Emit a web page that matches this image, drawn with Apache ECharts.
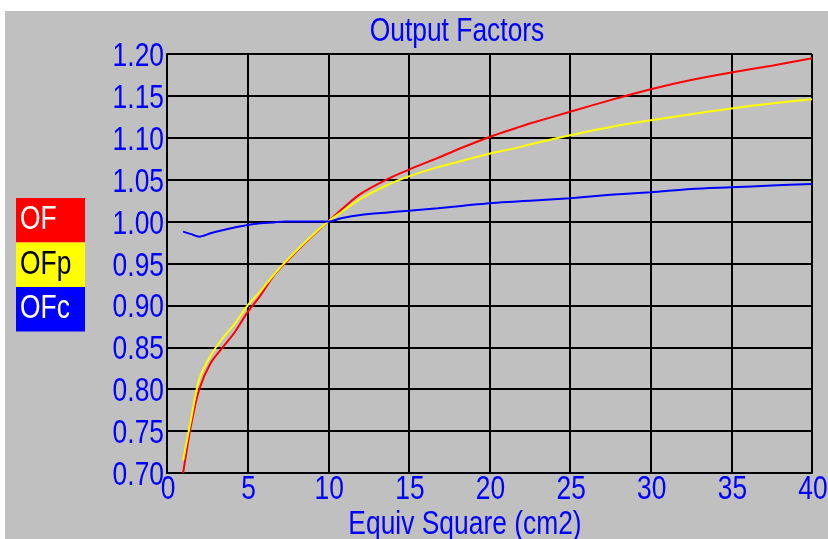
<!DOCTYPE html>
<html>
<head>
<meta charset="utf-8">
<script src="https://cdn.jsdelivr.net/npm/echarts@6/dist/echarts.min.js"></script>
<style>
  html, body { margin: 0; padding: 0; background: #ffffff; width: 828px; height: 539px; overflow: hidden; }
  #chart { position: absolute; left: 5px; top: 11px; width: 823px; height: 528px; }
</style>
</head>
<body>
<div id="chart"></div>
<script>
// Equivalent square field sizes (cm2) at which the factors are sampled
const fieldSizes = [1, 1.5, 2, 2.7, 3.5, 4.2, 5, 5.8, 6.6, 7.3, 8.7, 10, 10.8, 12, 13.7, 15, 16.8, 18.4, 20, 21.7, 22.5, 25, 27.5, 30, 32.5, 35, 37.5, 40];

// Total output factor
const ofValues = [0.700, 0.758, 0.800, 0.831, 0.851, 0.868, 0.892, 0.912, 0.935, 0.950, 0.977, 1.000, 1.014, 1.033, 1.051, 1.062, 1.076, 1.089, 1.101, 1.112, 1.117, 1.131, 1.145, 1.158, 1.169, 1.178, 1.186, 1.195];
// Phantom scatter factor
const ofpValues = [0.715, 0.765, 0.812, 0.840, 0.862, 0.878, 0.900, 0.917, 0.936, 0.951, 0.978, 1.000, 1.011, 1.027, 1.044, 1.054, 1.065, 1.073, 1.081, 1.088, 1.092, 1.103, 1.113, 1.121, 1.128, 1.135, 1.141, 1.146];
// Collimator scatter factor
const ofcValues = [0.988, 0.985, 0.982, 0.986, 0.990, 0.993, 0.996, 0.998, 0.999, 1.000, 1.000, 1.000, 1.004, 1.008, 1.011, 1.013, 1.016, 1.019, 1.022, 1.024, 1.025, 1.028, 1.032, 1.035, 1.039, 1.041, 1.043, 1.045];

const seriesNames = ['OF', 'OFp', 'OFc'];
const seriesColors = ['#ff0000', '#ffff00', '#0000ff'];
const legendTextColors = ['#ffffff', '#000000', '#ffffff'];

// Tick labels
const xTickLabels = ['0', '5', '10', '15', '20', '25', '30', '35', '40'];
const yTickLabels = ['0.70', '0.75', '0.80', '0.85', '0.90', '0.95', '1.00', '1.05', '1.10', '1.15', '1.20'];

const titleText = 'Output Factors';
const xAxisTitle = 'Equiv Square (cm2)';

const FONT = '33px "Liberation Sans", Arimo, sans-serif';
const NARROW = 0.8;          // horizontal squeeze applied to all text
const BLUE = '#0000ff';

const pairs = vals => fieldSizes.map((x, i) => [x, vals[i]]);
const allValues = [ofValues, ofpValues, ofcValues];

const chart = echarts.init(document.getElementById('chart'));

chart.setOption({
  backgroundColor: '#c0c0c0',
  animation: false,
  grid: { left: 162, top: 43, right: 16, bottom: 66, containLabel: false, show: false },
  xAxis: {
    type: 'value',
    min: 0, max: 40, interval: 5,
    axisLine: { show: true, lineStyle: { color: '#000', width: 2 } },
    axisTick: { show: false },
    axisLabel: { show: false },
    splitLine: { show: true, lineStyle: { color: '#000', width: 2 } }
  },
  yAxis: {
    type: 'value',
    min: 0.70, max: 1.20, interval: 0.05,
    axisLine: { show: true, lineStyle: { color: '#000', width: 2 } },
    axisTick: { show: false },
    axisLabel: { show: false },
    splitLine: { show: true, lineStyle: { color: '#000', width: 2 } }
  },
  series: seriesNames.map((name, i) => ({
    name: name,
    type: 'line',
    data: pairs(allValues[i]),
    showSymbol: false,
    smooth: 0.3,
    lineStyle: { color: seriesColors[i], width: 2 },
    itemStyle: { color: seriesColors[i] }
  }))
});

// Narrow text helper: text anchored at (x, y), squeezed horizontally about its anchor
function narrowText(x, y, text, fill, align, vAlign) {
  return {
    type: 'text', x: x, y: y, scaleX: NARROW, z: 10,
    style: { text: text, fill: fill, font: FONT, align: align, verticalAlign: vAlign }
  };
}

const g = [];
const toPx = (x, y) => chart.convertToPixel({ gridIndex: 0 }, [x, y]);

// Y tick labels
yTickLabels.forEach(lbl => {
  const p = toPx(0, parseFloat(lbl));
  g.push(narrowText(p[0] - 3, p[1] + 3, lbl, BLUE, 'right', 'middle'));
});
// X tick labels
xTickLabels.forEach(lbl => {
  const p = toPx(parseFloat(lbl), 0.70);
  g.push(narrowText(p[0] + 1, p[1] + 17, lbl, BLUE, 'center', 'middle'));
});
// Title and axis title
g.push(narrowText(452, 21, titleText, BLUE, 'center', 'middle'));
g.push(narrowText(460, 514, xAxisTitle, BLUE, 'center', 'middle'));

// Colour-block legend on the left
const boxTop = 187, boxH = 44.5;
seriesNames.forEach((name, i) => {
  g.push({
    type: 'rect', x: 11, y: boxTop + i * boxH, z: 9,
    shape: { width: 69, height: boxH },
    style: { fill: seriesColors[i] }
  });
  g.push(narrowText(15, boxTop + i * boxH + boxH / 2, name, legendTextColors[i], 'left', 'middle'));
});

chart.setOption({ graphic: g });
</script>
</body>
</html>
